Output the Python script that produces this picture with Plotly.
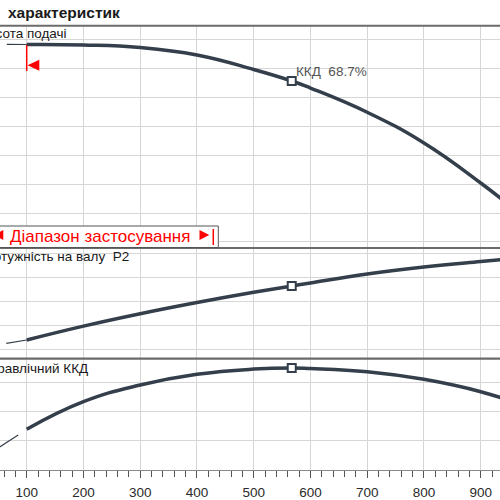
import plotly.graph_objects as go

# ---- data ----
flow = [100, 200, 300, 400, 500, 567, 600, 700, 800, 900, 960]
head = [44.10, 44.02, 43.58, 42.29, 39.79, 37.80, 36.59, 32.40, 27.10, 20.19, 15.60]
power = [23.78, 29.60, 34.80, 39.50, 43.80, 46.44, 47.70, 51.48, 54.42, 56.72, 58.00]
eff = [27.59, 46.62, 58.14, 65.52, 69.10, 69.86, 69.50, 67.31, 62.07, 53.52, 46.00]

flow_thin_head = [65, 100]
head_thin = [44.14, 44.10]
flow_thin_power = [64, 100]
power_thin = [22.39, 23.78]
flow_thin_eff = [50, 85]
eff_thin = [14.83, 23.66]

bep_index = 5
bep_label = "ККД  68.7%"
q_min = 100

x_ticks = [100, 200, 300, 400, 500, 600, 700, 800, 900]

title_text = "характеристик"
label_head = "Висота подачі"
label_power = "Потужність на валу  P2"
label_eff = "Гідравлічний ККД"
range_text = "Діапазон застосування"

# ---- style ----
W = H = 500
CURVE = "#343f4b"
GRID = "#d6d6d6"
SEP = "#6b6b6b"
FONT = "Liberation Sans, Arial, sans-serif"


def py(p):
    return 1 - p / H


def px(p):
    return p / W


fig = go.Figure()

panels = [
    ("x3", "y3", flow_thin_head, head_thin, head),
    ("x2", "y2", flow_thin_power, power_thin, power),
    ("x", "y", flow_thin_eff, eff_thin, eff),
]
for xa, ya, qt, vt, v in panels:
    fig.add_trace(go.Scatter(x=qt, y=vt, mode="lines", xaxis=xa, yaxis=ya,
                             line=dict(color=CURVE, width=1.2), hoverinfo="skip",
                             showlegend=False))
    fig.add_trace(go.Scatter(x=flow, y=v, mode="lines", xaxis=xa, yaxis=ya,
                             line=dict(color=CURVE, width=3.5, shape="spline", smoothing=1.3),
                             showlegend=False))
    fig.add_trace(go.Scatter(x=[flow[bep_index]], y=[v[bep_index]], mode="markers",
                             xaxis=xa, yaxis=ya,
                             marker=dict(symbol="square", size=8, color="white",
                                         line=dict(color=CURVE, width=2)),
                             showlegend=False))

xr = [52.95, 934.0]
common_x = dict(range=xr, showgrid=True, gridcolor=GRID, gridwidth=1,
                tickmode="array", tickvals=x_ticks, zeroline=False)
common_y = dict(showgrid=True, gridcolor=GRID, gridwidth=1, showticklabels=False,
                zeroline=False, ticks="")

fig.update_layout(
    width=W, height=H, margin=dict(l=0, r=0, t=0, b=0),
    paper_bgcolor="white", plot_bgcolor="white",
    font=dict(family=FONT, color="#222"),
    xaxis=dict(**common_x, anchor="y", domain=[0, 1], showline=True, linecolor="#8a8a8a",
               linewidth=1, ticks="outside", ticklen=7, tickcolor="#555", tickwidth=1,
               ticklabelstandoff=3,
               tickfont=dict(size=13.5, color="#2a2a2a", family=FONT),
               minor=dict(dtick=20, tick0=0, ticks="outside", ticklen=6, tickcolor="#555",
                          showgrid=False)),
    xaxis2=dict(**common_x, anchor="y2", matches="x", showticklabels=False, ticks=""),
    xaxis3=dict(**common_x, anchor="y3", matches="x", showticklabels=False, ticks=""),
    yaxis=dict(**common_y, domain=[py(469.5), py(358.7)], range=[-0.14, 76.28],
               tick0=0, dtick=20),
    yaxis2=dict(**common_y, domain=[py(358.7), py(248)], range=[15.93, 62.39],
                tick0=0, dtick=10),
    yaxis3=dict(**common_y, domain=[py(248), py(25.7)], range=[8.96, 47.35],
                tick0=0, dtick=5),
)

shapes = []
for yp, w in [(25.7, 2), (248, 2.2), (358.7, 2.2)]:
    shapes.append(dict(type="line", xref="paper", yref="paper", x0=0, x1=1,
                       y0=py(yp), y1=py(yp), line=dict(color=SEP, width=w)))
# operating range start marker in head panel
shapes.append(dict(type="line", xref="x3", yref="paper", x0=q_min, x1=q_min,
                   y0=py(45), y1=py(71), line=dict(color="red", width=1.5)))
shapes.append(dict(type="path", xref="paper", yref="paper",
                   path=f"M {px(27.5)} {py(65.3)} L {px(39.3)} {py(59.8)} L {px(39.3)} {py(70.8)} Z",
                   fillcolor="red", line=dict(width=0)))
# range legend box
shapes.append(dict(type="rect", xref="paper", yref="paper", x0=px(-5), x1=px(218.3),
                   y0=py(247.5), y1=py(226), line=dict(color="#555", width=1),
                   fillcolor="white", layer="above"))
shapes.append(dict(type="path", xref="paper", yref="paper",
                   path=f"M {px(-6)} {py(235)} L {px(3.3)} {py(230)} L {px(3.3)} {py(240)} Z",
                   fillcolor="red", line=dict(width=0), layer="above"))
shapes.append(dict(type="path", xref="paper", yref="paper",
                   path=f"M {px(209.3)} {py(235)} L {px(199.5)} {py(230)} L {px(199.5)} {py(240)} Z",
                   fillcolor="red", line=dict(width=0), layer="above"))
shapes.append(dict(type="line", xref="paper", yref="paper", x0=px(213.3), x1=px(213.3),
                   y0=py(229), y1=py(245), line=dict(color="red", width=1.5), layer="above"))
fig.update_layout(shapes=shapes)

ann = [
    dict(text=f"<b>{title_text}</b>", x=px(6), y=py(12.5), xanchor="left", yanchor="middle",
         font=dict(size=15.5, color="#1a1a1a")),
    dict(text=label_head, x=px(69), y=py(33.5), xanchor="right", yanchor="middle",
         font=dict(size=13.5, color="#1a1a1a")),
    dict(text=label_power, x=px(131), y=py(256), xanchor="right", yanchor="middle",
         font=dict(size=13.5, color="#1a1a1a")),
    dict(text=label_eff, x=px(90), y=py(368), xanchor="right", yanchor="middle",
         font=dict(size=13.5, color="#1a1a1a")),
    dict(text=bep_label, x=px(294), y=py(71.7), xanchor="left", yanchor="middle",
         font=dict(size=13.5, color="#555")),
    dict(text=range_text, x=px(8), y=py(236.5), xanchor="left", yanchor="middle",
         font=dict(size=17, color="red")),
]
for a in ann:
    a.update(xref="paper", yref="paper", showarrow=False)
fig.update_layout(annotations=ann)

fig.write_html("out.html")
